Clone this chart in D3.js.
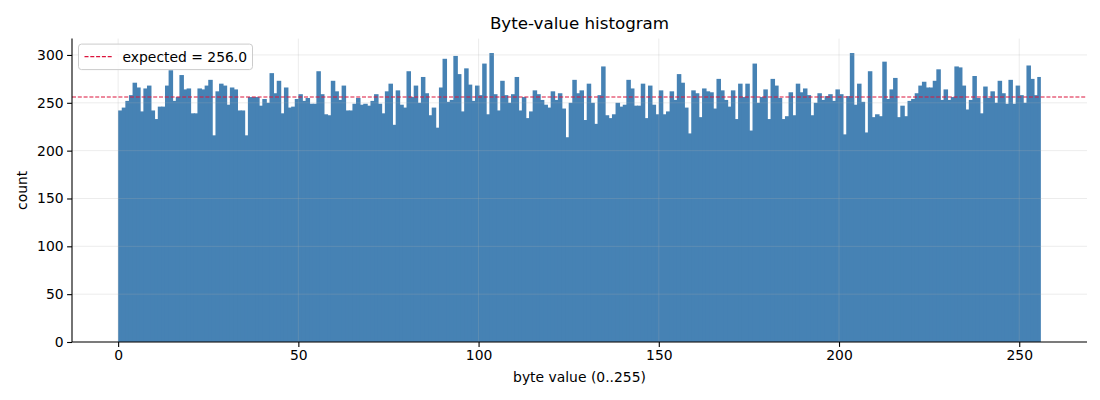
<!DOCTYPE html>
<html>
<head>
<meta charset="utf-8">
<script src="https://cdn.jsdelivr.net/npm/d3@7"></script>
<style>
	body { margin: 0; background: #fff; }
	svg text { font-family: "DejaVu Sans", sans-serif; fill: #000; }
</style>
</head>
<body>
<div id="chart"></div>
<script>
// counts per byte value 0..255
const counts = [
	242, 245, 252, 258, 271, 266, 241, 265, 268, 242, 233, 246, 246, 268, 284, 252,
	256, 279, 264, 265, 239, 239, 265, 264, 268, 274, 216, 262, 270, 268, 248, 266,
	264, 242, 242, 216, 256, 256, 256, 247, 254, 250, 281, 260, 273, 239, 266, 245,
	246, 254, 259, 252, 255, 249, 249, 283, 259, 238, 237, 273, 262, 253, 268, 242,
	242, 249, 255, 248, 249, 247, 252, 259, 249, 239, 262, 270, 227, 263, 248, 245,
	283, 256, 268, 250, 277, 260, 237, 245, 224, 266, 296, 251, 253, 299, 280, 241,
	286, 269, 252, 268, 258, 291, 238, 302, 259, 242, 273, 258, 250, 259, 277, 242,
	256, 234, 241, 263, 259, 253, 248, 245, 262, 253, 260, 244, 214, 250, 274, 260,
	263, 232, 270, 250, 228, 258, 288, 237, 234, 238, 250, 246, 248, 274, 265, 247,
	247, 270, 234, 268, 248, 238, 263, 238, 241, 262, 253, 280, 271, 245, 218, 263,
	260, 235, 265, 262, 261, 244, 275, 263, 253, 246, 263, 233, 270, 256, 270, 221,
	291, 250, 256, 264, 233, 275, 268, 255, 233, 236, 261, 237, 270, 261, 265, 258,
	237, 250, 260, 253, 257, 259, 252, 264, 259, 217, 257, 302, 248, 270, 251, 219,
	283, 235, 238, 236, 293, 254, 264, 276, 235, 247, 236, 252, 254, 260, 268, 272,
	266, 266, 273, 285, 253, 264, 253, 256, 288, 287, 268, 243, 253, 278, 255, 239,
	267, 255, 262, 250, 273, 260, 249, 274, 249, 268, 258, 250, 289, 275, 258, 277
];
const expected = 256.0;
const xTicks = [0, 50, 100, 150, 200, 250];
const yTicks = [0, 50, 100, 150, 200, 250, 300];

const width = 1100, height = 400;
const margin = { top: 38.6, right: 13, bottom: 58, left: 72 };

const svg = d3.select("#chart").append("svg")
	.attr("width", width)
	.attr("height", height);

const bins = counts.map((c, i) => ({ x0: i, x1: i + 1, count: c }));

// matplotlib-like 5% margins on x, top margin on y
const pad = bins.length * 0.05;
const x = d3.scaleLinear()
	.domain([-pad, bins.length + pad])
	.range([margin.left, width - margin.right]);
const y = d3.scaleLinear()
	.domain([0, d3.max(counts) * 1.05])
	.range([height - margin.bottom, margin.top]);

// bars (slight overlap so no antialias seams between neighbours)
svg.append("g")
	.selectAll("rect")
	.data(bins)
	.join("rect")
	.attr("x", (d) => x(d.x0))
	.attr("width", (d, i) => x(d.x1) - x(d.x0) + (i < bins.length - 1 ? 0.9 : 0))
	.attr("y", (d) => y(d.count))
	.attr("height", (d) => y(0) - y(d.count))
	.attr("fill", "#4682b4");

// grid sits above the bars, as in the reference
const grid = svg.append("g")
	.attr("stroke", "#b0b0b0")
	.attr("stroke-opacity", 0.3)
	.attr("stroke-width", 0.8);
grid.selectAll(".gx")
	.data(xTicks)
	.join("line")
	.attr("x1", (d) => x(d)).attr("x2", (d) => x(d))
	.attr("y1", y.range()[0]).attr("y2", y.range()[1]);
grid.selectAll(".gy")
	.data(yTicks)
	.join("line")
	.attr("x1", x.range()[0]).attr("x2", x.range()[1])
	.attr("y1", (d) => y(d)).attr("y2", (d) => y(d));

// expected line
svg.append("line")
	.attr("x1", x.range()[0]).attr("x2", x.range()[1])
	.attr("y1", y(expected)).attr("y2", y(expected))
	.attr("stroke", "#dc143c")
	.attr("stroke-width", 1.1)
	.attr("stroke-dasharray", "4,1.8");

// axes
const xAxis = svg.append("g")
	.attr("transform", `translate(0,${y(0)})`)
	.call(d3.axisBottom(x).tickValues(xTicks).tickSize(4.9).tickPadding(3.5));
const yAxis = svg.append("g")
	.attr("transform", `translate(${x.range()[0]},0)`)
	.call(d3.axisLeft(y).tickValues(yTicks).tickSize(4.9).tickPadding(3.5));

[xAxis, yAxis].forEach((g) => {
	g.select(".domain").attr("stroke", "#000").attr("stroke-width", 1.1);
	g.selectAll(".tick line").attr("stroke", "#000").attr("stroke-width", 1.1);
	g.selectAll(".tick text")
		.attr("font-size", 13.9)
		.style("font-family", "DejaVu Sans, sans-serif");
});
xAxis.select(".domain").attr("d", `M${x.range()[0]},0H${x.range()[1]}`);
yAxis.select(".domain").attr("d", `M0,${y.range()[0]}V${y.range()[1]}`);

// title and labels
svg.append("text")
	.attr("x", (x.range()[0] + x.range()[1]) / 2)
	.attr("y", 29)
	.attr("text-anchor", "middle")
	.attr("font-size", 16.7)
	.text("Byte-value histogram");

svg.append("text")
	.attr("x", (x.range()[0] + x.range()[1]) / 2)
	.attr("y", 382)
	.attr("text-anchor", "middle")
	.attr("font-size", 13.9)
	.text("byte value (0..255)");

svg.append("text")
	.attr("transform", `translate(27,${(y.range()[0] + y.range()[1]) / 2}) rotate(-90)`)
	.attr("text-anchor", "middle")
	.attr("font-size", 13.9)
	.text("count");

// legend
const legend = svg.append("g").attr("transform", `translate(${x.range()[0] + 6.5},${margin.top + 5.5})`);
legend.append("rect")
	.attr("width", 174)
	.attr("height", 25.5)
	.attr("rx", 3)
	.attr("fill", "#fff")
	.attr("fill-opacity", 0.8)
	.attr("stroke", "#cccccc")
	.attr("stroke-width", 1);
legend.append("line")
	.attr("x1", 6).attr("x2", 34)
	.attr("y1", 12.5).attr("y2", 12.5)
	.attr("stroke", "#dc143c")
	.attr("stroke-width", 1.1)
	.attr("stroke-dasharray", "4,1.8");
legend.append("text")
	.attr("x", 44)
	.attr("y", 17.5)
	.attr("font-size", 13.9)
	.text(`expected = ${expected.toFixed(1)}`);
</script>
</body>
</html>
